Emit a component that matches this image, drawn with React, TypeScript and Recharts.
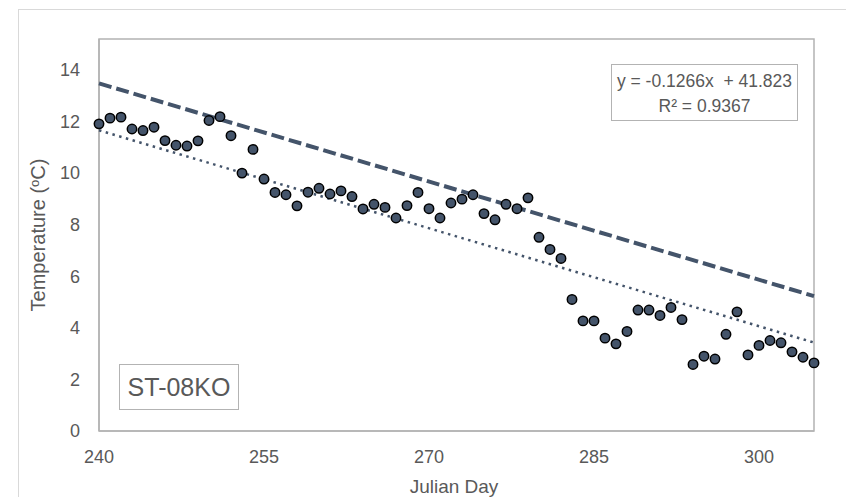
import React from 'react';
import { ScatterChart, Scatter, XAxis, YAxis, ReferenceArea } from 'recharts';

const days = [
  240, 241, 242, 243, 244, 245, 246, 247, 248, 249, 250, 251, 252, 253, 254, 255, 256, 257, 258, 259,
  260, 261, 262, 263, 264, 265, 266, 267, 268, 269, 270, 271, 272, 273, 274, 275, 276, 277, 278, 279,
  280, 281, 282, 283, 284, 285, 286, 287, 288, 289, 290, 291, 292, 293, 294, 295, 296, 297, 298, 299,
  300, 301, 302, 303, 304, 305,
];
const temps = [
  11.91, 12.13, 12.17, 11.71, 11.65, 11.78, 11.26, 11.08, 11.05, 11.25, 12.04, 12.19, 11.45, 10.0, 10.92, 9.77, 9.25, 9.16, 8.73, 9.26,
  9.41, 9.19, 9.31, 9.09, 8.61, 8.79, 8.67, 8.26, 8.74, 9.25, 8.62, 8.26, 8.84, 8.99, 9.16, 8.43, 8.19, 8.79, 8.62, 9.04,
  7.51, 7.04, 6.69, 5.1, 4.27, 4.27, 3.6, 3.38, 3.86, 4.69, 4.69, 4.48, 4.79, 4.32, 2.58, 2.9, 2.79, 3.75, 4.62, 2.95,
  3.32, 3.51, 3.42, 3.07, 2.86, 2.64,
];
const trendDays = [240, 305];
const trendFit = [11.66, 3.43];
const trendUpper = [13.48, 5.23];
const xTicks = [240, 255, 270, 285, 300];
const yTicks = [0, 2, 4, 6, 8, 10, 12, 14];
const equationText = 'y = -0.1266x  + 41.823';
const r2Text = 'R² = 0.9367';
const siteLabel = 'ST-08KO';
const xTitle = 'Julian Day';

const points = days.map((x, i) => ({ x, y: temps[i] }));
const fitLine = trendDays.map((x, i) => ({ x, y: trendFit[i] }));
const upperLine = trendDays.map((x, i) => ({ x, y: trendUpper[i] }));

const FONT = '"Liberation Sans", Arial, sans-serif';
const TEXT = '#595959';
const MARK = '#44546a';
const BORDER = '#b3b3b3';

const Dot = (p: any) => (
  <circle cx={p.cx} cy={p.cy} r={4.7} fill={MARK} stroke="#000" strokeWidth={1.5} />
);
const NoShape = () => <g />;

export default function App() {
  return (
    <div style={{ position: 'absolute', left: 0, top: 0, width: 846, height: 497, overflow: 'hidden', background: '#fff', fontFamily: FONT }}>
      <div style={{ position: 'absolute', left: 18, top: 9, width: 846, height: 497, border: '1px solid #d9d9d9', boxSizing: 'border-box' }} />
      <div style={{ position: 'absolute', left: 0, top: 0 }}>
        <ScatterChart width={846} height={497} margin={{ top: 39, right: 32, bottom: 0, left: 0 }}>
          <XAxis
            type="number"
            dataKey="x"
            domain={[240, 305]}
            ticks={xTicks}
            height={66}
            tickSize={0}
            tickMargin={19}
            tickLine={false}
            axisLine={{ stroke: BORDER, strokeWidth: 1.5 }}
            tick={{ fill: TEXT, fontSize: 18, fontFamily: FONT }}
          />
          <YAxis
            type="number"
            dataKey="y"
            domain={[0, 15.2]}
            ticks={yTicks}
            width={99}
            tickSize={0}
            tickMargin={19}
            tickLine={false}
            axisLine={{ stroke: BORDER, strokeWidth: 1.5 }}
            tick={{ fill: TEXT, fontSize: 18, fontFamily: FONT }}
          />
          <ReferenceArea x1={240} x2={305} y1={0} y2={15.2} fill="none" stroke={BORDER} strokeWidth={1.5} fillOpacity={0} />
          <Scatter
            data={upperLine}
            shape={NoShape}
            line={{ stroke: MARK, strokeWidth: 4, strokeDasharray: '13 5' }}
            isAnimationActive={false}
          />
          <Scatter
            data={fitLine}
            shape={NoShape}
            line={{ stroke: MARK, strokeWidth: 2.5, strokeDasharray: '2.5 4.5' }}
            isAnimationActive={false}
          />
          <Scatter data={points} shape={Dot} isAnimationActive={false} />
        </ScatterChart>
      </div>
      <div style={{ position: 'absolute', left: 454, top: 486, transform: 'translate(-50%, -50%)', fontSize: 19, color: TEXT, whiteSpace: 'nowrap', lineHeight: 1 }}>
        {xTitle}
      </div>
      <div style={{ position: 'absolute', left: 38, top: 235, transform: 'translate(-50%, -50%) rotate(-90deg)', fontSize: 20, color: TEXT, whiteSpace: 'nowrap', lineHeight: 1 }}>
        Temperature (<sup style={{ fontSize: '0.65em', verticalAlign: '0.45em' }}>o</sup>C)
      </div>
      <div style={{ position: 'absolute', left: 611, top: 63.5, width: 187, height: 57, border: `1.5px solid ${BORDER}`, boxSizing: 'border-box', background: '#fff', color: TEXT, textAlign: 'center', fontSize: 17.5, whiteSpace: 'pre' }}>
        <div style={{ position: 'absolute', left: 0, right: 0, top: 17, transform: 'translateY(-50%)', lineHeight: 1 }}>{equationText}</div>
        <div style={{ position: 'absolute', left: 0, right: 0, top: 42, transform: 'translateY(-50%)', lineHeight: 1 }}>{r2Text}</div>
      </div>
      <div style={{ position: 'absolute', left: 119, top: 364, width: 120, height: 46, border: `1.5px solid ${BORDER}`, boxSizing: 'border-box', background: '#fff', color: TEXT, display: 'flex', alignItems: 'center', justifyContent: 'center', fontSize: 25, lineHeight: 1 }}>
        {siteLabel}
      </div>
    </div>
  );
}
